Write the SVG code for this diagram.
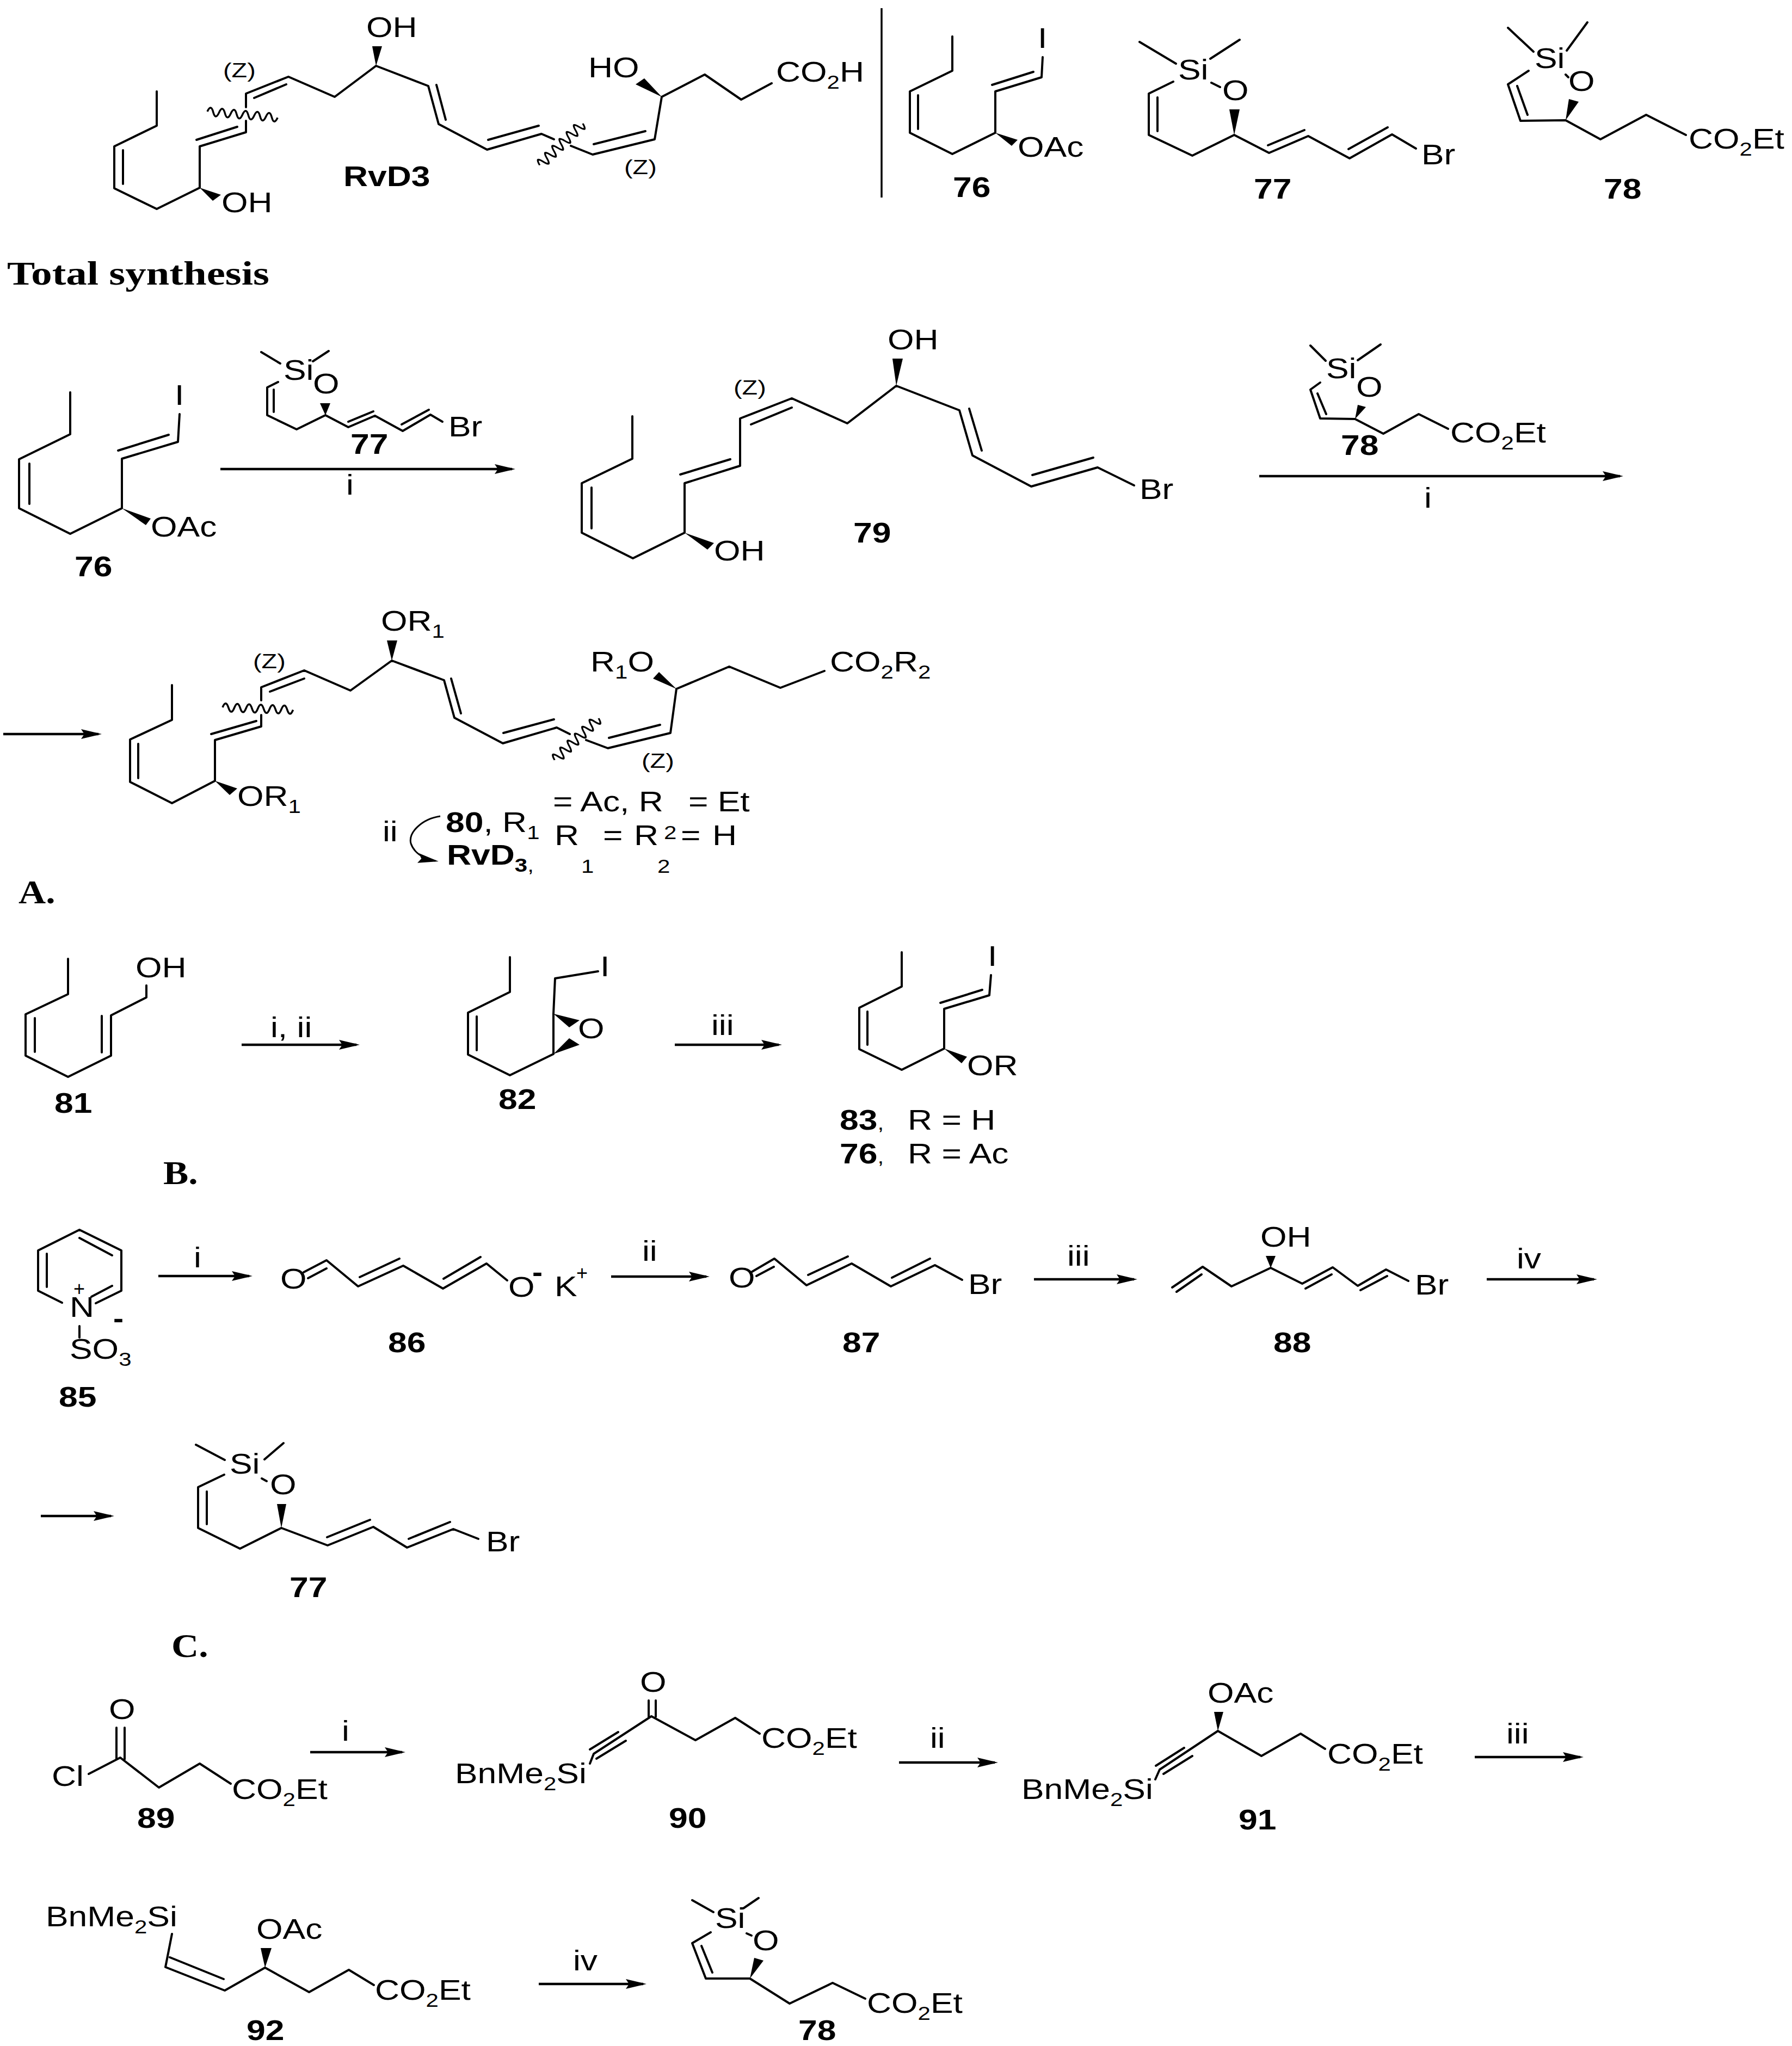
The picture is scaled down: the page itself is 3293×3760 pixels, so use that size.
<svg xmlns="http://www.w3.org/2000/svg" xmlns:xlink="http://www.w3.org/1999/xlink" width="3293" height="3760" viewBox="0 0 3293 3760">
<style>
.b{fill:none;stroke:#000;stroke-width:4;stroke-linecap:round;stroke-linejoin:round}
.w{fill:#000;stroke:none}
.a{fill:none;stroke:#000;stroke-width:4.5}
text{font-family:"Liberation Sans",Arial,sans-serif;font-size:52px;fill:#000}
.n{font-weight:700}
.z{font-size:36px}
.h{font-family:"Liberation Serif","Times New Roman",serif;font-weight:700;font-size:62px}
.p{font-size:36px}
.s{font-size:35px}
</style>
<defs>
<marker id="ah" markerUnits="userSpaceOnUse" markerWidth="40" markerHeight="20" refX="32" refY="9" orient="auto"><path d="M0 0L38 9L0 18L6 9z" fill="#000"/></marker>
<path id="wave" d="M0 0q5.4 -15 10.8 0t10.8 0t10.8 0t10.8 0t10.8 0t10.8 0t10.8 0t10.8 0t10.8 0t10.8 0t10.8 0t10.8 0" fill="none" stroke="#000" stroke-width="3.5"/>
</defs>
<rect width="3293" height="3760" fill="#fff"/>

<g id="connectors">
<line class="a" x1="1620" y1="15" x2="1620" y2="363" style="stroke-width:3.5"/>
<line class="a" x1="405" y1="862" x2="941" y2="862" marker-end="url(#ah)"/>
<line class="a" x1="2314" y1="875" x2="2977" y2="875" marker-end="url(#ah)"/>
<line class="a" x1="6" y1="1349" x2="181" y2="1349" marker-end="url(#ah)"/>
<path class="a" style="stroke-width:3" d="M809 1500C775 1505 750 1530 755 1550C760 1565 775 1578 800 1582" marker-end="url(#ah)"/>
<line class="a" x1="444" y1="1920" x2="655" y2="1920" marker-end="url(#ah)"/>
<line class="a" x1="1240" y1="1920" x2="1431" y2="1920" marker-end="url(#ah)"/>
<line class="a" x1="291" y1="2345" x2="458" y2="2345" marker-end="url(#ah)"/>
<line class="a" x1="1123" y1="2346" x2="1298" y2="2346" marker-end="url(#ah)"/>
<line class="a" x1="1900" y1="2351" x2="2084" y2="2351" marker-end="url(#ah)"/>
<line class="a" x1="2732" y1="2351" x2="2929" y2="2351" marker-end="url(#ah)"/>
<line class="a" x1="75" y1="2786" x2="204" y2="2786" marker-end="url(#ah)"/>
<line class="a" x1="570" y1="3220" x2="739" y2="3220" marker-end="url(#ah)"/>
<line class="a" x1="1652" y1="3239" x2="1828" y2="3239" marker-end="url(#ah)"/>
<line class="a" x1="2710" y1="3229" x2="2904" y2="3229" marker-end="url(#ah)"/>
<line class="a" x1="990" y1="3646" x2="1182" y2="3646" marker-end="url(#ah)"/>
</g>

<g id="rvd3">
<path class="b" d="M288 168L288 231L210 269L210 346L288 384L367 345L367 269L452 243L452 222M452 197L452 172L530 141L615 178L691 121L787 158L806 228L895 275L995 246L1018 256M1049 268L1089 284L1203 256L1216 178L1295 137L1362 183L1418 153M226 276L226 338M361 257L436 233M467 180L526 155M802 156L819 220M897 257L990 231M1091 265L1186 241"/>
<polygon class="w" points="367,345 391,369 406,358"/>
<polygon class="w" points="691,121 684,85 702,85"/>
<polygon class="w" points="1216,178 1168,155 1184,144"/>
<use xlink:href="#wave" href="#wave" transform="translate(381 205) rotate(5)"/>
<use xlink:href="#wave" href="#wave" transform="translate(1071 227) rotate(136) scale(.85 1.2)"/>
<text transform="translate(673 68) scale(1.2 1)">OH</text>
<text transform="translate(1081 142) scale(1.2 1)">HO</text>
<text transform="translate(1426 150) scale(1.2 1)">CO<tspan class="s" dy="13">2</tspan><tspan dy="-13">H</tspan></text>
<text transform="translate(407 390) scale(1.2 1)">OH</text>
<text class="z" transform="translate(410 142) scale(1.3 1)">(Z)</text>
<text class="z" transform="translate(1147 320) scale(1.3 1)">(Z)</text>
<text class="n" transform="translate(631 342) scale(1.2 1)">RvD3</text>
</g>

<g id="c76-top">
<path class="b" d="M1750 67L1750 130L1672 168L1672 244L1750 283L1829 244L1829 168L1914 142L1916 105M1687 175L1687 237M1823 156L1899 132"/>
<polygon class="w" points="1829,244 1859,268 1870,257"/>
<text transform="translate(1907 88) scale(1.2 1)">I</text>
<text transform="translate(1870 288) scale(1.2 1)">OAc</text>
<text class="n" transform="translate(1751 362) scale(1.2 1)">76</text>
</g>

<g id="c77-top">
<path class="b" d="M2094 77L2161 117M2278 73L2224 108M2156 150L2111 172L2111 248L2191 286L2268 248L2332 281L2404 250L2480 291L2558 247L2602 273M2226 152L2242 160M2127 179L2127 241M2330 267L2397 239M2478 274L2550 234"/>
<polygon class="w" points="2268,248 2259,201 2278,201"/>
<text transform="translate(2165 146) scale(1.2 1)">Si</text>
<text transform="translate(2246 184) scale(1.2 1)">O</text>
<text transform="translate(2612 302) scale(1.2 1)">Br</text>
<text class="n" transform="translate(2304 365) scale(1.2 1)">77</text>
</g>

<g id="c78-top">
<path class="b" d="M2771 51L2818 95M2917 41L2879 93M2809 130L2771 155L2794 222L2877 221L2941 256L3025 211L3098 248M2877 137L2882 142M2788 158L2807 211"/>
<polygon class="w" points="2877,221 2883,182 2901,187"/>
<text transform="translate(2820 125) scale(1.2 1)">Si</text>
<text transform="translate(2882 167) scale(1.2 1)">O</text>
<text transform="translate(3103 273) scale(1.2 1)">CO<tspan class="s" dy="13">2</tspan><tspan dy="-13">Et</tspan></text>
<text class="n" transform="translate(2947 365) scale(1.2 1)">78</text>
</g>

<g id="title"><text class="h" transform="translate(13 523) scale(1.24 1)">Total synthesis</text></g>

<g id="c76-a">
<path class="b" d="M129 721L129 798L35 844L35 934L129 981L224 934L224 843L327 812L330 761M54 852L54 926M217 828L310 799"/>
<polygon class="w" points="224,934 268,965 277,953"/>
<text transform="translate(321 744) scale(1.2 1)">I</text>
<text transform="translate(277 986) scale(1.2 1)">OAc</text>
<text class="n" transform="translate(137 1059) scale(1.2 1)">76</text>
</g>

<g id="c77-a">
<path class="b" d="M480 647L515 668M604 645L575 664M511 702L491 712L491 763L545 789L598 763L640 785L689 764L740 792L791 762L813 775M503 716L503 757M640 775L686 756M738 780L788 753"/>
<polygon class="w" points="598,763 588,741 607,741"/>
<text transform="translate(521 698) scale(1.2 1)">Si</text>
<text transform="translate(575 723) scale(1.2 1)">O</text>
<text transform="translate(824 802) scale(1.2 1)">Br</text>
<text class="n" transform="translate(644 834) scale(1.2 1)">77</text>
<text transform="translate(636 909) scale(1.2 1)">i</text>
</g>

<g id="c79">
<path class="b" d="M1162 765L1162 843L1069 888L1069 979L1163 1026L1258 979L1258 888L1360 856L1360 769L1455 732L1557 778L1647 709L1763 754L1787 837L1895 894L2017 859L2084 892M1087 896L1087 971M1250 872L1342 844M1380 780L1455 749M1781 751L1804 828M1897 873L2009 841"/>
<polygon class="w" points="1258,979 1300,1010 1312,998"/>
<polygon class="w" points="1647,709 1640,659 1659,659"/>
<text transform="translate(2094 917) scale(1.2 1)">Br</text>
<text transform="translate(1631 642) scale(1.2 1)">OH</text>
<text transform="translate(1312 1030) scale(1.2 1)">OH</text>
<text class="z" transform="translate(1348 725) scale(1.3 1)">(Z)</text>
<text class="n" transform="translate(1568 997) scale(1.2 1)">79</text>
</g>

<g id="c78-a">
<path class="b" d="M2408 635L2436 663M2537 633L2495 662M2426 703L2408 716L2426 769L2490 770L2542 797L2607 761L2661 788M2421 723L2437 761"/>
<polygon class="w" points="2490,770 2495,744 2510,748"/>
<text transform="translate(2437 695) scale(1.2 1)">Si</text>
<text transform="translate(2492 729) scale(1.2 1)">O</text>
<text transform="translate(2665 813) scale(1.2 1)">CO<tspan class="s" dy="13">2</tspan><tspan dy="-13">Et</tspan></text>
<text class="n" transform="translate(2464 836) scale(1.2 1)">78</text>
<text transform="translate(2617 933) scale(1.2 1)">i</text>
</g>

<g id="c80">
<path class="b" d="M316 1259L316 1323L239 1359L239 1437L316 1476L395 1435L395 1360L480 1335L480 1314M480 1287L480 1263L559 1232L644 1269L720 1214L816 1250L835 1319L924 1366L1023 1337L1047 1349M1077 1360L1117 1375L1232 1347L1243 1266L1340 1225L1434 1264L1515 1233M254 1367L254 1430M388 1349L471 1325M496 1271L559 1247M829 1247L847 1311M925 1347L1018 1322M1119 1356L1213 1332"/>
<polygon class="w" points="395,1435 422,1461 436,1449"/>
<polygon class="w" points="720,1214 711,1177 730,1177"/>
<polygon class="w" points="1243,1266 1200,1247 1211,1235"/>
<use xlink:href="#wave" href="#wave" transform="translate(409 1300) rotate(2)"/>
<use xlink:href="#wave" href="#wave" transform="translate(1100 1320) rotate(136.5) scale(.86 1.2)"/>
<text transform="translate(700 1159) scale(1.2 1)">OR<tspan class="s" dy="13">1</tspan></text>
<text transform="translate(1085 1234) scale(1.2 1)">R<tspan class="s" dy="13">1</tspan><tspan dy="-13">O</tspan></text>
<text transform="translate(1525 1234) scale(1.2 1)">CO<tspan class="s" dy="13">2</tspan><tspan dy="-13">R</tspan><tspan class="s" dy="13">2</tspan></text>
<text transform="translate(436 1481) scale(1.2 1)">OR<tspan class="s" dy="13">1</tspan></text>
<text class="z" transform="translate(465 1228) scale(1.3 1)">(Z)</text>
<text class="z" transform="translate(1179 1411) scale(1.3 1)">(Z)</text>
<text transform="translate(1016 1491) scale(1.2 1)">= Ac, R</text>
<text transform="translate(1265 1491) scale(1.2 1)">= Et</text>
<text transform="translate(703 1546) scale(1.2 1)">ii</text>
<text transform="translate(819 1529) scale(1.2 1)"><tspan class="n">80</tspan>, R<tspan class="s" dy="13">1</tspan></text>
<text transform="translate(1019 1553) scale(1.2 1)">R</text>
<text transform="translate(1108 1553) scale(1.2 1)">=</text>
<text transform="translate(1165 1553) scale(1.2 1)">R</text>
<text class="s" transform="translate(1220 1542) scale(1.2 1)">2</text>
<text transform="translate(1251 1553) scale(1.2 1)">=</text>
<text transform="translate(1309 1553) scale(1.2 1)">H</text>
<text class="s" transform="translate(1068 1604) scale(1.2 1)">1</text>
<text class="s" transform="translate(1208 1604) scale(1.2 1)">2</text>
<text transform="translate(821 1589) scale(1.2 1)"><tspan class="n">RvD</tspan><tspan class="s n" dy="13">3</tspan><tspan class="s">,</tspan></text>
<text class="h" transform="translate(34 1660) scale(1.12 1)">A.</text>
</g>

<g id="c81">
<path class="b" d="M125 1762L125 1827L47 1864L47 1940L125 1979L204 1940L204 1866L269 1833L269 1811M64 1871L64 1933M187 1867L187 1934"/>
<text transform="translate(249 1796) scale(1.2 1)">OH</text>
<text class="n" transform="translate(100 2045) scale(1.2 1)">81</text>
<text transform="translate(497 1906) scale(1.2 1)">i, ii</text>
</g>

<g id="c82">
<path class="b" d="M937 1759L937 1823L860 1861L860 1938L937 1976L1017 1937L1017 1863L1020 1798L1099 1785M876 1868L876 1930"/>
<polygon class="w" points="1017,1863 1046,1888 1065,1875"/>
<polygon class="w" points="1017,1937 1046,1908 1065,1920"/>
<text transform="translate(1103 1794) scale(1.2 1)">I</text>
<text transform="translate(1062 1908) scale(1.2 1)">O</text>
<text class="n" transform="translate(916 2038) scale(1.2 1)">82</text>
<text transform="translate(1307 1902) scale(1.2 1)">iii</text>
</g>

<g id="c83">
<path class="b" d="M1657 1750L1657 1813L1579 1852L1579 1928L1657 1966L1735 1927L1735 1854L1818 1829L1821 1792M1594 1859L1594 1920M1728 1843L1805 1819"/>
<polygon class="w" points="1735,1927 1767,1954 1777,1942"/>
<text transform="translate(1815 1775) scale(1.2 1)">I</text>
<text transform="translate(1777 1976) scale(1.2 1)">OR</text>
<text transform="translate(1543 2076) scale(1.2 1)"><tspan class="n">83</tspan><tspan class="s">,</tspan></text>
<text transform="translate(1668 2076) scale(1.2 1)">R = H</text>
<text transform="translate(1543 2138) scale(1.2 1)"><tspan class="n">76</tspan><tspan class="s">,</tspan></text>
<text transform="translate(1668 2138) scale(1.2 1)">R = Ac</text>
<text class="h" transform="translate(300 2176) scale(1.12 1)">B.</text>
</g>

<g id="c85">
<path class="b" d="M114 2394L70 2372L70 2298L146 2260L223 2298L223 2372L176 2395M86 2304L86 2365M146 2275L206 2307M206 2363L168 2383M146 2437L146 2458"/>
<text transform="translate(128 2420) scale(1.2 1)">N</text>
<text class="p" transform="translate(135 2381)">+</text>
<text class="n" transform="translate(208 2440) scale(1.1 1)">-</text>
<text transform="translate(128 2497) scale(1.2 1)">SO<tspan class="s" dy="13">3</tspan></text>
<text class="n" transform="translate(108 2585) scale(1.2 1)">85</text>
<text transform="translate(356 2329) scale(1.2 1)">i</text>
</g>

<g id="c86">
<path class="b" d="M558 2338L600 2316L658 2364L741 2326L814 2368L894 2322L932 2353M566 2349L600 2331M661 2347L734 2313M815 2350L883 2310"/>
<text transform="translate(515 2368) scale(1.2 1)">O</text>
<text transform="translate(934 2383) scale(1.2 1)">O</text>
<text class="n" transform="translate(978 2355) scale(1.1 1)">-</text>
<text transform="translate(1019 2382) scale(1.2 1)">K</text>
<text class="p" transform="translate(1059 2352)">+</text>
<text class="n" transform="translate(713 2485) scale(1.2 1)">86</text>
<text transform="translate(1180 2317) scale(1.2 1)">ii</text>
</g>

<g id="c87">
<path class="b" d="M1382 2337L1423 2313L1482 2362L1565 2322L1637 2364L1718 2325L1768 2352M1390 2345L1422 2328M1485 2343L1558 2309M1639 2348L1709 2313"/>
<text transform="translate(1339 2366) scale(1.2 1)">O</text>
<text transform="translate(1779 2378) scale(1.2 1)">Br</text>
<text class="n" transform="translate(1548 2485) scale(1.2 1)">87</text>
<text transform="translate(1961 2326) scale(1.2 1)">iii</text>
</g>

<g id="c88">
<path class="b" d="M2154 2366L2210 2328L2263 2364L2335 2330L2393 2359L2449 2329L2495 2363L2547 2333L2588 2354M2162 2374L2208 2342M2399 2368L2447 2342M2500 2371L2549 2345"/>
<polygon class="w" points="2335,2330 2326,2308 2344,2308"/>
<text transform="translate(2316 2291) scale(1.2 1)">OH</text>
<text transform="translate(2600 2379) scale(1.2 1)">Br</text>
<text class="n" transform="translate(2340 2485) scale(1.2 1)">88</text>
<text transform="translate(2787 2331) scale(1.2 1)">iv</text>
</g>

<g id="c77-b">
<path class="b" d="M360 2655L413 2683M521 2652L486 2682M481 2717L490 2722M412 2710L364 2733L364 2808L441 2846L517 2808L602 2840L686 2806L748 2844L833 2810L879 2828M380 2741L380 2801M601 2825L680 2793M751 2828L827 2797"/>
<polygon class="w" points="517,2808 509,2764 526,2764"/>
<text transform="translate(422 2708) scale(1.2 1)">Si</text>
<text transform="translate(496 2746) scale(1.2 1)">O</text>
<text transform="translate(893 2851) scale(1.2 1)">Br</text>
<text class="n" transform="translate(532 2935) scale(1.2 1)">77</text>
<text class="h" transform="translate(315 3045) scale(1.12 1)">C.</text>
</g>

<g id="c89">
<path class="b" d="M214 3175L214 3233M229 3175L229 3233M163 3260L221 3230L292 3285L367 3241L424 3278"/>
<text transform="translate(200 3159) scale(1.2 1)">O</text>
<text transform="translate(95 3282) scale(1.2 1)">Cl</text>
<text transform="translate(426 3306) scale(1.2 1)">CO<tspan class="s" dy="13">2</tspan><tspan dy="-13">Et</tspan></text>
<text class="n" transform="translate(252 3359) scale(1.2 1)">89</text>
<text transform="translate(628 3199) scale(1.2 1)">i</text>
</g>

<g id="c90">
<path class="b" d="M1192 3125L1192 3155M1205 3125L1205 3155M1084 3241L1091 3223L1197 3154L1278 3198L1351 3157L1396 3186M1084 3215L1136 3183M1096 3232L1150 3199"/>
<text transform="translate(1176 3109) scale(1.2 1)">O</text>
<text transform="translate(836 3277) scale(1.2 1)">BnMe<tspan class="s" dy="13">2</tspan><tspan dy="-13">Si</tspan></text>
<text transform="translate(1399 3212) scale(1.2 1)">CO<tspan class="s" dy="13">2</tspan><tspan dy="-13">Et</tspan></text>
<text class="n" transform="translate(1229 3359) scale(1.2 1)">90</text>
<text transform="translate(1709 3212) scale(1.2 1)">ii</text>
</g>

<g id="c91">
<path class="b" d="M2123 3270L2131 3252L2238 3181L2318 3227L2390 3186L2435 3214M2124 3245L2176 3212M2138 3260L2191 3227"/>
<polygon class="w" points="2238,3181 2231,3146 2248,3146"/>
<text transform="translate(2219 3129) scale(1.2 1)">OAc</text>
<text transform="translate(1877 3306) scale(1.2 1)">BnMe<tspan class="s" dy="13">2</tspan><tspan dy="-13">Si</tspan></text>
<text transform="translate(2439 3241) scale(1.2 1)">CO<tspan class="s" dy="13">2</tspan><tspan dy="-13">Et</tspan></text>
<text class="n" transform="translate(2276 3362) scale(1.2 1)">91</text>
<text transform="translate(2768 3204) scale(1.2 1)">iii</text>
</g>

<g id="c92">
<path class="b" d="M316 3554L304 3615L413 3658L487 3616L568 3661L641 3620L687 3648M312 3597L411 3637"/>
<polygon class="w" points="487,3616 479,3580 499,3580"/>
<text transform="translate(84 3540) scale(1.2 1)">BnMe<tspan class="s" dy="13">2</tspan><tspan dy="-13">Si</tspan></text>
<text transform="translate(471 3563) scale(1.2 1)">OAc</text>
<text transform="translate(689 3675) scale(1.2 1)">CO<tspan class="s" dy="13">2</tspan><tspan dy="-13">Et</tspan></text>
<text class="n" transform="translate(453 3749) scale(1.2 1)">92</text>
<text transform="translate(1053 3621) scale(1.2 1)">iv</text>
</g>

<g id="c78-c">
<path class="b" d="M1272 3492L1311 3514M1394 3488L1366 3507M1372 3553L1381 3557M1306 3551L1272 3571L1297 3636L1378 3636L1451 3682L1530 3644L1590 3673M1289 3576L1309 3625"/>
<polygon class="w" points="1378,3636 1386,3598 1403,3603"/>
<text transform="translate(1314 3543) scale(1.2 1)">Si</text>
<text transform="translate(1383 3584) scale(1.2 1)">O</text>
<text transform="translate(1593 3699) scale(1.2 1)">CO<tspan class="s" dy="13">2</tspan><tspan dy="-13">Et</tspan></text>
<text class="n" transform="translate(1467 3749) scale(1.2 1)">78</text>
</g>
</svg>
